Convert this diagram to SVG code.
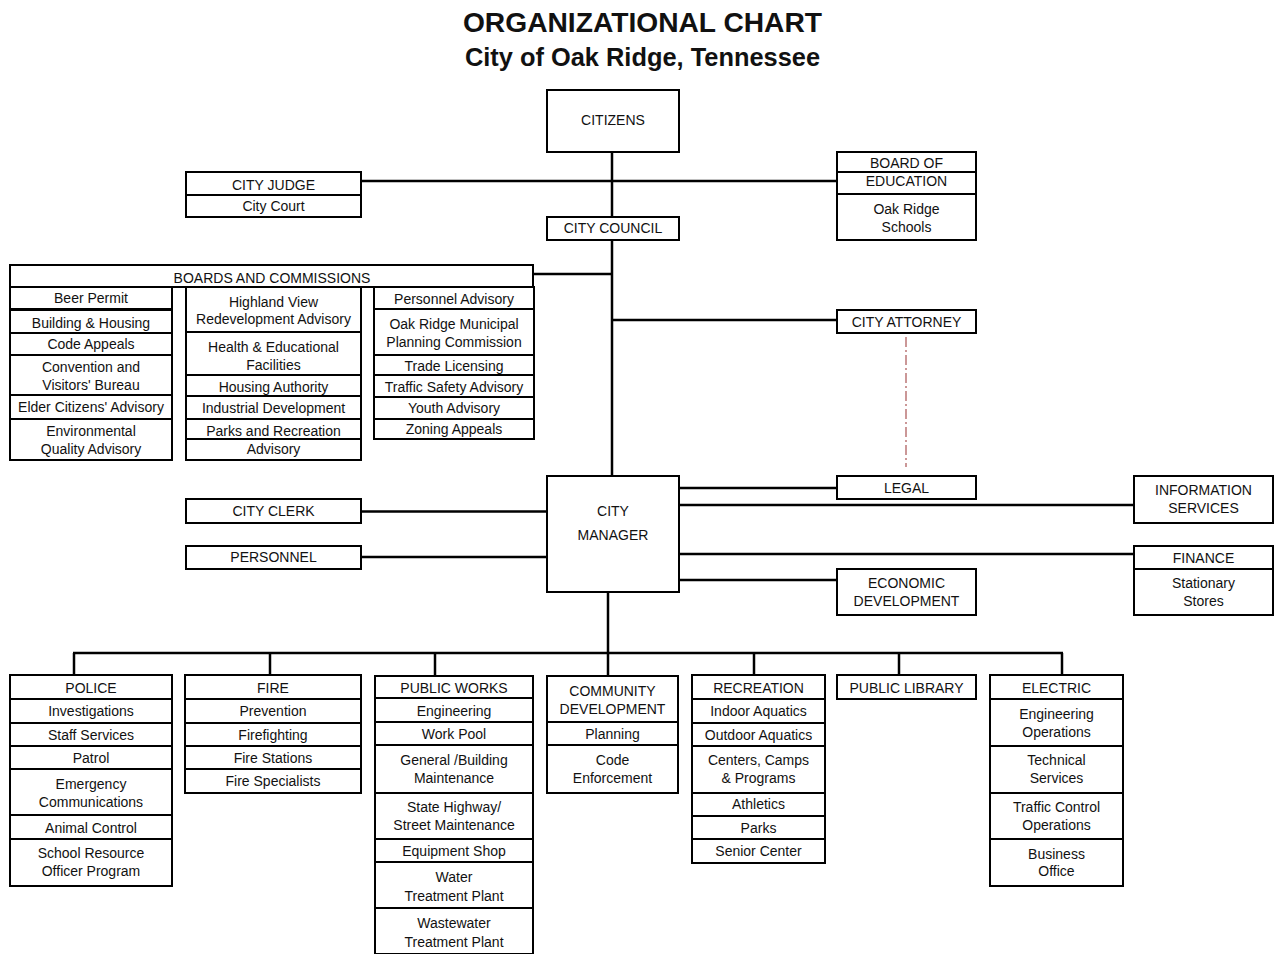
<svg xmlns="http://www.w3.org/2000/svg" width="1281" height="954" viewBox="0 0 1281 954">
<style>
.b{fill:#fff;stroke:#000;stroke-width:2}
.t{font-family:"Liberation Sans",Arial,sans-serif;font-size:14px;text-anchor:middle;fill:#111}
.h{font-family:"Liberation Sans",Arial,sans-serif;font-weight:bold;text-anchor:middle;fill:#111}
.c{stroke:#000;stroke-width:2.5;fill:none}
</style>
<rect width="1281" height="954" fill="#fff"/>
<text class="h" x="642.5" y="32" font-size="28.2">ORGANIZATIONAL CHART</text>
<text class="h" x="642.5" y="66" font-size="25.4">City of Oak Ridge, Tennessee</text>

<g id="connectors">
<line class="c" x1="612" y1="152" x2="612" y2="476"/>
<line class="c" x1="361" y1="181" x2="837" y2="181"/>
<line class="c" x1="533" y1="274" x2="612" y2="274"/>
<line class="c" x1="612" y1="320" x2="837" y2="320"/>
<line x1="906" y1="337" x2="906" y2="467" stroke="#b06060" stroke-width="1.3" stroke-dasharray="10 3 2 3"/>
<line class="c" x1="679" y1="488" x2="837" y2="488"/>
<line class="c" x1="679" y1="505" x2="1134" y2="505"/>
<line class="c" x1="679" y1="554" x2="1134" y2="554"/>
<line class="c" x1="679" y1="580" x2="837" y2="580"/>
<line class="c" x1="361" y1="511.5" x2="547" y2="511.5"/>
<line class="c" x1="361" y1="557" x2="547" y2="557"/>
<line class="c" x1="608" y1="592" x2="608" y2="653"/>
<line class="c" x1="73" y1="653" x2="1063" y2="653"/>
<line class="c" x1="74" y1="653" x2="74" y2="675"/>
<line class="c" x1="270" y1="653" x2="270" y2="675"/>
<line class="c" x1="435" y1="653" x2="435" y2="676"/>
<line class="c" x1="608" y1="653" x2="608" y2="676"/>
<line class="c" x1="754" y1="653" x2="754" y2="675"/>
<line class="c" x1="899" y1="653" x2="899" y2="675"/>
<line class="c" x1="1062" y1="653" x2="1062" y2="675"/>
</g>

<g id="citizens">
<rect class="b" x="547" y="90" width="132" height="62"/>
<text class="t" x="613" y="125">CITIZENS</text>
</g>

<g id="city-judge">
<rect class="b" x="186" y="172" width="175" height="23"/>
<rect class="b" x="186" y="195" width="175" height="22"/>
<text class="t" x="273.5" y="190">CITY JUDGE</text>
<text class="t" x="273.5" y="211">City Court</text>
</g>

<g id="board-of-education">
<rect class="b" x="837" y="152" width="139" height="20"/>
<rect class="b" x="837" y="172" width="139" height="22"/>
<rect class="b" x="837" y="194" width="139" height="46"/>
<text class="t" x="906.5" y="168">BOARD OF</text>
<text class="t" x="906.5" y="185.5">EDUCATION</text>
<text class="t" x="906.5" y="214">Oak Ridge</text>
<text class="t" x="906.5" y="232">Schools</text>
</g>

<g id="city-council">
<rect class="b" x="547" y="217" width="132" height="23"/>
<text class="t" x="613" y="233">CITY COUNCIL</text>
</g>

<g id="boards-and-commissions">
<rect class="b" x="10" y="265" width="523" height="22"/>
<text class="t" x="272" y="283">BOARDS AND COMMISSIONS</text>
<rect class="b" x="10" y="287" width="162" height="22"/>
<rect class="b" x="10" y="310" width="162" height="23"/>
<rect class="b" x="10" y="333" width="162" height="22"/>
<rect class="b" x="10" y="355" width="162" height="40"/>
<rect class="b" x="10" y="395" width="162" height="24"/>
<rect class="b" x="10" y="419" width="162" height="41"/>
<text class="t" x="91" y="303">Beer Permit</text>
<text class="t" x="91" y="328">Building &amp; Housing</text>
<text class="t" x="91" y="349">Code Appeals</text>
<text class="t" x="91" y="371.5">Convention and</text>
<text class="t" x="91" y="390">Visitors' Bureau</text>
<text class="t" x="91" y="412">Elder Citizens' Advisory</text>
<text class="t" x="91" y="435.5">Environmental</text>
<text class="t" x="91" y="454">Quality Advisory</text>
<rect class="b" x="186" y="287" width="175" height="45"/>
<rect class="b" x="186" y="332" width="175" height="43"/>
<rect class="b" x="186" y="375" width="175" height="21"/>
<rect class="b" x="186" y="396" width="175" height="23"/>
<rect class="b" x="186" y="419" width="175" height="20"/>
<rect class="b" x="186" y="439" width="175" height="21"/>
<text class="t" x="273.5" y="306.5">Highland View</text>
<text class="t" x="273.5" y="324">Redevelopment Advisory</text>
<text class="t" x="273.5" y="352">Health &amp; Educational</text>
<text class="t" x="273.5" y="369.5">Facilities</text>
<text class="t" x="273.5" y="391.5">Housing Authority</text>
<text class="t" x="273.5" y="412.5">Industrial Development</text>
<text class="t" x="273.5" y="435.5">Parks and Recreation</text>
<text class="t" x="273.5" y="454">Advisory</text>
<rect class="b" x="374" y="287" width="160" height="22"/>
<rect class="b" x="374" y="309" width="160" height="46"/>
<rect class="b" x="374" y="355" width="160" height="20"/>
<rect class="b" x="374" y="375" width="160" height="22"/>
<rect class="b" x="374" y="397" width="160" height="22"/>
<rect class="b" x="374" y="419" width="160" height="20"/>
<text class="t" x="454" y="304">Personnel Advisory</text>
<text class="t" x="454" y="328.5">Oak Ridge Municipal</text>
<text class="t" x="454" y="346.5">Planning Commission</text>
<text class="t" x="454" y="371">Trade Licensing</text>
<text class="t" x="454" y="391.5">Traffic Safety Advisory</text>
<text class="t" x="454" y="412.5">Youth Advisory</text>
<text class="t" x="454" y="434">Zoning Appeals</text>
</g>

<g id="city-attorney">
<rect class="b" x="837" y="310" width="139" height="23"/>
<text class="t" x="906.5" y="326.5">CITY ATTORNEY</text>
</g>

<g id="legal">
<rect class="b" x="837" y="476" width="139" height="23"/>
<text class="t" x="906.5" y="492.5">LEGAL</text>
</g>

<g id="city-manager">
<rect class="b" x="547" y="476" width="132" height="116"/>
<text class="t" x="613" y="516">CITY</text>
<text class="t" x="613" y="540">MANAGER</text>
</g>

<g id="information-services">
<rect class="b" x="1134" y="476" width="139" height="47"/>
<text class="t" x="1203.5" y="495">INFORMATION</text>
<text class="t" x="1203.5" y="513">SERVICES</text>
</g>

<g id="finance">
<rect class="b" x="1134" y="546" width="139" height="23"/>
<rect class="b" x="1134" y="569" width="139" height="46"/>
<text class="t" x="1203.5" y="562.5">FINANCE</text>
<text class="t" x="1203.5" y="588">Stationary</text>
<text class="t" x="1203.5" y="606">Stores</text>
</g>

<g id="economic-development">
<rect class="b" x="837" y="569" width="139" height="46"/>
<text class="t" x="906.5" y="588">ECONOMIC</text>
<text class="t" x="906.5" y="606">DEVELOPMENT</text>
</g>

<g id="city-clerk">
<rect class="b" x="186" y="499" width="175" height="24"/>
<text class="t" x="273.5" y="516">CITY CLERK</text>
</g>

<g id="personnel">
<rect class="b" x="186" y="546" width="175" height="23"/>
<text class="t" x="273.5" y="562">PERSONNEL</text>
</g>

<g id="police">
<rect class="b" x="10" y="675" width="162" height="24"/>
<rect class="b" x="10" y="699" width="162" height="24"/>
<rect class="b" x="10" y="723" width="162" height="23"/>
<rect class="b" x="10" y="746" width="162" height="23"/>
<rect class="b" x="10" y="769" width="162" height="46"/>
<rect class="b" x="10" y="815" width="162" height="24"/>
<rect class="b" x="10" y="839" width="162" height="47"/>
<text class="t" x="91" y="693">POLICE</text>
<text class="t" x="91" y="716">Investigations</text>
<text class="t" x="91" y="739.5">Staff Services</text>
<text class="t" x="91" y="762.5">Patrol</text>
<text class="t" x="91" y="789">Emergency</text>
<text class="t" x="91" y="807">Communications</text>
<text class="t" x="91" y="833">Animal Control</text>
<text class="t" x="91" y="858">School Resource</text>
<text class="t" x="91" y="876">Officer Program</text>
</g>

<g id="fire">
<rect class="b" x="185" y="675" width="176" height="24"/>
<rect class="b" x="185" y="699" width="176" height="24"/>
<rect class="b" x="185" y="723" width="176" height="23"/>
<rect class="b" x="185" y="746" width="176" height="23"/>
<rect class="b" x="185" y="769" width="176" height="24"/>
<text class="t" x="273" y="693">FIRE</text>
<text class="t" x="273" y="716">Prevention</text>
<text class="t" x="273" y="739.5">Firefighting</text>
<text class="t" x="273" y="762.5">Fire Stations</text>
<text class="t" x="273" y="786">Fire Specialists</text>
</g>

<g id="public-works">
<rect class="b" x="375" y="676" width="158" height="22"/>
<rect class="b" x="375" y="698" width="158" height="24"/>
<rect class="b" x="375" y="722" width="158" height="23"/>
<rect class="b" x="375" y="745" width="158" height="48"/>
<rect class="b" x="375" y="793" width="158" height="46"/>
<rect class="b" x="375" y="839" width="158" height="23"/>
<rect class="b" x="375" y="862" width="158" height="46"/>
<rect class="b" x="375" y="908" width="158" height="46"/>
<text class="t" x="454" y="693">PUBLIC WORKS</text>
<text class="t" x="454" y="716">Engineering</text>
<text class="t" x="454" y="739">Work Pool</text>
<text class="t" x="454" y="765">General /Building</text>
<text class="t" x="454" y="783">Maintenance</text>
<text class="t" x="454" y="812">State Highway/</text>
<text class="t" x="454" y="830">Street Maintenance</text>
<text class="t" x="454" y="856">Equipment Shop</text>
<text class="t" x="454" y="882">Water</text>
<text class="t" x="454" y="900.5">Treatment Plant</text>
<text class="t" x="454" y="928">Wastewater</text>
<text class="t" x="454" y="946.5">Treatment Plant</text>
</g>

<g id="community-development">
<rect class="b" x="547" y="676" width="131" height="46"/>
<rect class="b" x="547" y="722" width="131" height="23"/>
<rect class="b" x="547" y="745" width="131" height="48"/>
<text class="t" x="612.5" y="695.5">COMMUNITY</text>
<text class="t" x="612.5" y="713.5">DEVELOPMENT</text>
<text class="t" x="612.5" y="739">Planning</text>
<text class="t" x="612.5" y="765">Code</text>
<text class="t" x="612.5" y="783">Enforcement</text>
</g>

<g id="recreation">
<rect class="b" x="692" y="675" width="133" height="24"/>
<rect class="b" x="692" y="699" width="133" height="24"/>
<rect class="b" x="692" y="723" width="133" height="23"/>
<rect class="b" x="692" y="746" width="133" height="47"/>
<rect class="b" x="692" y="793" width="133" height="23"/>
<rect class="b" x="692" y="816" width="133" height="23"/>
<rect class="b" x="692" y="839" width="133" height="24"/>
<text class="t" x="758.5" y="693">RECREATION</text>
<text class="t" x="758.5" y="716">Indoor Aquatics</text>
<text class="t" x="758.5" y="739.5">Outdoor Aquatics</text>
<text class="t" x="758.5" y="765">Centers, Camps</text>
<text class="t" x="758.5" y="783">&amp; Programs</text>
<text class="t" x="758.5" y="809">Athletics</text>
<text class="t" x="758.5" y="833">Parks</text>
<text class="t" x="758.5" y="856">Senior Center</text>
</g>

<g id="public-library">
<rect class="b" x="837" y="675" width="139" height="24"/>
<text class="t" x="906.5" y="693">PUBLIC LIBRARY</text>
</g>

<g id="electric">
<rect class="b" x="990" y="675" width="133" height="24"/>
<rect class="b" x="990" y="699" width="133" height="47"/>
<rect class="b" x="990" y="746" width="133" height="47"/>
<rect class="b" x="990" y="793" width="133" height="46"/>
<rect class="b" x="990" y="839" width="133" height="47"/>
<text class="t" x="1056.5" y="693">ELECTRIC</text>
<text class="t" x="1056.5" y="718.5">Engineering</text>
<text class="t" x="1056.5" y="736.5">Operations</text>
<text class="t" x="1056.5" y="765">Technical</text>
<text class="t" x="1056.5" y="783">Services</text>
<text class="t" x="1056.5" y="812">Traffic Control</text>
<text class="t" x="1056.5" y="830">Operations</text>
<text class="t" x="1056.5" y="858.5">Business</text>
<text class="t" x="1056.5" y="876">Office</text>
</g>
</svg>
